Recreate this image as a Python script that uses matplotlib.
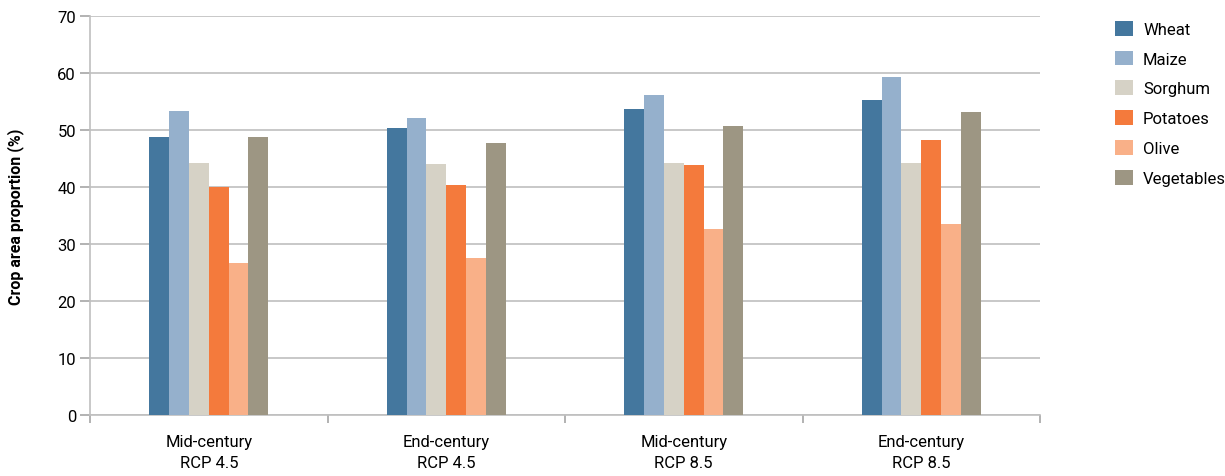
import matplotlib
matplotlib.use("Agg")
import matplotlib.pyplot as plt
import numpy as np

categories = ["Mid-century\nRCP 4.5", "End-century\nRCP 4.5", "Mid-century\nRCP 8.5", "End-century\nRCP 8.5"]
crops = ["Wheat", "Maize", "Sorghum", "Potatoes", "Olive", "Vegetables"]
wheat = [48.8, 50.3, 53.7, 55.3]
maize = [53.3, 52.1, 56.1, 59.3]
sorghum = [44.2, 44.0, 44.2, 44.2]
potatoes = [40.0, 40.3, 43.9, 48.2]
olive = [26.7, 27.5, 32.6, 33.5]
vegetables = [48.8, 47.7, 50.7, 53.2]
series = [wheat, maize, sorghum, potatoes, olive, vegetables]
colors = ["#44779e", "#95b0cc", "#d6d2c6", "#f47a3c", "#f9b088", "#9d9683"]

plt.rcParams['font.family'] = ['Roboto', 'DejaVu Sans']

fig = plt.figure(figsize=(12.25, 4.77), dpi=100)
ax = fig.add_axes([90/1225, 61/477, 950/1225, 399/477])

n = len(series)
bw = 0.5 / n
x = np.arange(len(categories))
for i, (vals, c, name) in enumerate(zip(series, colors, crops)):
    ax.bar(x - 0.25 + bw * (i + 0.5), vals, width=bw, color=c, label=name, zorder=3)

ax.set_xlim(-0.5, len(categories) - 0.5)
ax.set_ylim(0, 70)
ax.set_yticks(np.arange(0, 71, 10))
ax.yaxis.grid(True, color="#bfbfbf", linewidth=1.2, zorder=0)
ax.set_axisbelow(True)

ax.set_xticks(np.arange(-0.5, len(categories), 1.0))
ax.set_xticklabels([])
ax.set_xticks(x, minor=True)
ax.set_xticklabels(categories, minor=True, fontsize=12, linespacing=1.5)
ax.tick_params(axis="x", which="major", length=6, color="#a6a6a6", width=1.2, direction="out")
ax.tick_params(axis="x", which="minor", length=0, pad=14)
ax.tick_params(axis="y", length=7, color="#a6a6a6", width=1.2, labelsize=12, pad=3)

for s in ["top", "right"]:
    ax.spines[s].set_visible(False)
ax.spines["left"].set_color("#bfbfbf")
ax.spines["left"].set_linewidth(1.2)
ax.spines["bottom"].set_color("#bfbfbf")
ax.spines["bottom"].set_linewidth(1.2)

ax.set_ylabel("Crop area proportion (%)", fontsize=11.5, fontweight="bold")
ax.yaxis.set_label_coords(-66/950, 0.5)

ax.legend(loc="upper left", bbox_to_anchor=(1108/1225, 1 - 15/477), bbox_transform=fig.transFigure,
          frameon=False, fontsize=12, handlelength=1.1, handleheight=1.0, labelspacing=0.82,
          handletextpad=0.6, borderaxespad=0)

fig.savefig("out.png", dpi=100)
